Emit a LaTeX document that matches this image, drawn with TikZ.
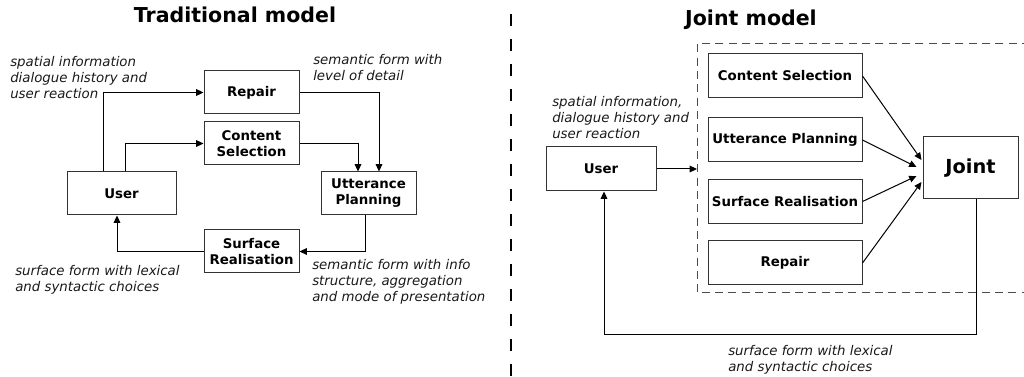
\documentclass[tikz,border=0pt]{standalone}
\usepackage{fontspec}
\setmainfont{DejaVu Sans}
\usepackage{tikz}
\usetikzlibrary{calc}
\usetikzlibrary{arrows.meta}

\begin{document}
\begin{tikzpicture}[x=0.75pt, y=-0.75pt,
    box/.style={draw=black!80, line width=0.75pt, inner sep=0pt, align=center,
      font=\bfseries, minimum width=71.25pt, minimum height=32.25pt},
    widebox/.style={box, minimum width=115.5pt, minimum height=33pt},
    note/.style={anchor=north west, inner sep=0pt, align=left, font=\itshape, text=black!90},
    title/.style={anchor=base, inner sep=0pt, font=\fontsize{15.4}{18}\selectfont\bfseries},
    flow/.style={line width=0.75pt, -{Triangle[length=5.5pt,width=5pt]}}]
  \useasboundingbox (0,0) rectangle (1024,377);

  % traditional model
  \node[title] (tradtitle) at (235,23) {Traditional model};
  \node[box] (repair) at (251.5,92.5) {Repair};
  \node[box] (content) at (251.5,143.5) {Content\\Selection};
  \node[box, minimum width=81.75pt] (user) at (121.5,193.5) {User};
  \node[box] (utter) at (368.5,193.5) {Utterance\\Planning};
  \node[box] (surface) at (251.5,251.5) {Surface\\Realisation};

  \draw[flow] ($(user.north)+(-18.5,0)$) |- (repair.west);
  \draw[flow] ($(user.north)+(3.5,0)$) |- (content.west);
  \draw[flow] (repair.east) -| ($(utter.north)+(10.5,0)$);
  \draw[flow] (content.east) -| ($(utter.north)+(-10.5,0)$);
  \draw[flow] ($(utter.south)+(-3.5,0)$) |- (surface.east);
  \draw[flow] (surface.west) -| ($(user.south)+(-4.5,0)$);

  \node[note] (tradin) at (10,56) {spatial information\\dialogue history and\\user reaction};
  \node[note] (tradlod) at (313,54) {semantic form with\\level of detail};
  \node[note] (tradout) at (15,265) {surface form with lexical\\and syntactic choices};
  \node[note] (tradinfo) at (312,259) {semantic form with info\\structure, aggregation\\and mode of presentation};

  % divider
  \coordinate (divtop) at (511,14);
  \coordinate (divbot) at (511,377);
  \draw[line width=1.3pt, dash pattern=on 9pt off 9.75pt] (divtop) -- (divbot);

  % joint model
  \node[title] (jointtitle) at (751,26) {Joint model};
  \coordinate (frame) at (697,44);
  \draw[black!70, line width=0.75pt, dash pattern=on 6pt off 4pt]
    (1030,44) -- (frame) -- (697,293) -- (1030,293);
  \node[widebox] (jcontent) at (785,76) {Content Selection};
  \node[widebox] (jutter) at (785,140) {Utterance Planning};
  \node[widebox] (jsurface) at (785,201.5) {Surface Realisation};
  \node[widebox] (jrepair) at (785,263) {Repair};
  \node[box, minimum width=71.25pt, minimum height=46.5pt,
    font=\fontsize{14.5}{17}\selectfont\bfseries] (joint) at (970.5,168) {Joint};
  \node[box, minimum width=82.5pt, minimum height=33pt] (juser) at (601,169) {User};

  \draw[flow] (juser.east) -- (juser.east -| frame);
  \draw[flow] (jcontent.east) -- ($(joint.west)+(-1,-8)$);
  \draw[flow] (jutter.east) -- ($(joint.west)+(-6,-1)$);
  \draw[flow] (jsurface.east) -- ($(joint.west)+(-6,8)$);
  \draw[flow] (jrepair.east) -- ($(joint.west)+(-1,14)$);
  \draw[flow] ($(joint.south)+(5.5,0)$) -- ++(0,135) -| ($(juser.south)+(3,0)$);

  \node[note] (jointin) at (552,96) {spatial information,\\dialogue history and\\user reaction};
  \node[note] (jointout) at (728,345) {surface form with lexical\\and syntactic choices};
\end{tikzpicture}
\end{document}
